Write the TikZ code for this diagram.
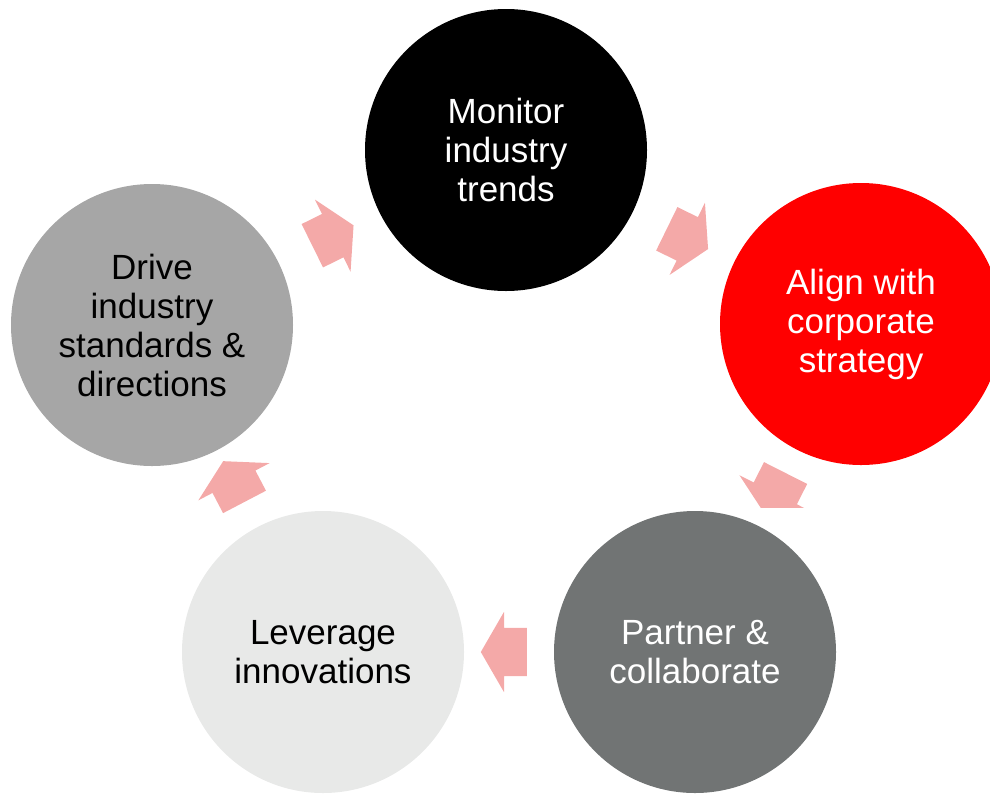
\documentclass[tikz,border=0pt]{standalone}
\usepackage{fontspec}
\setmainfont{Liberation Sans}
\usetikzlibrary{shapes.arrows}

\definecolor{darkgrey}{HTML}{717474}
\definecolor{midgrey}{HTML}{A6A6A6}
\definecolor{lightgrey}{HTML}{E8E9E8}
\definecolor{arrowpink}{HTML}{F4A9A8}

\begin{document}
\begin{tikzpicture}[
  x = 1pt, y = -1pt,
  stage/.style = {
    shape = circle,
    draw = none,
    minimum size = 282pt,
    inner sep = 0pt,
    outer sep = 0pt,
    align = center,
    font = \fontsize{35}{39}\selectfont,
  },
  flow/.style = {
    shape = single arrow,
    fill = arrowpink,
    draw = none,
    minimum height = 46pt,
    single arrow head extend = 16pt,
    single arrow tip angle = 120,
    inner xsep = 0pt,
    inner ysep = 24pt,
    outer sep = 0pt,
    sloped,
    allow upside down,
  }
]
  \useasboundingbox (0, 0) rectangle (990, 793);

  \node[stage, fill = black, text = white] (monitor) at (506, 150)
    {Monitor\\industry\\trends};
  \node[stage, fill = red, text = white] (align) at (861, 324)
    {Align with\\corporate\\strategy};
  \node[stage, fill = darkgrey, text = white] (partner) at (695, 652)
    {Partner \&\\collaborate};
  \node[stage, fill = lightgrey, text = black] (leverage) at (323, 652)
    {Leverage\\innovations};
  \node[stage, fill = midgrey, text = black] (drive) at (152, 325)
    {Drive\\industry\\standards \&\\directions};

  \path (drive) -- (monitor) node[flow, pos = 0.477] (f1) {};
  \path (monitor) -- (align) node[flow, pos = 0.477] (f2) {};
  \begin{scope}
    \clip (700, 440) rectangle (860, 507);
    \path (align) -- (partner) node[flow, pos = 0.491] (f3) {};
  \end{scope}
  \path (partner) -- (leverage) node[flow, pos = 0.48] (f4) {};
  \path (leverage) -- (drive) node[flow, pos = 0.51] (f5) {};
\end{tikzpicture}
\end{document}
